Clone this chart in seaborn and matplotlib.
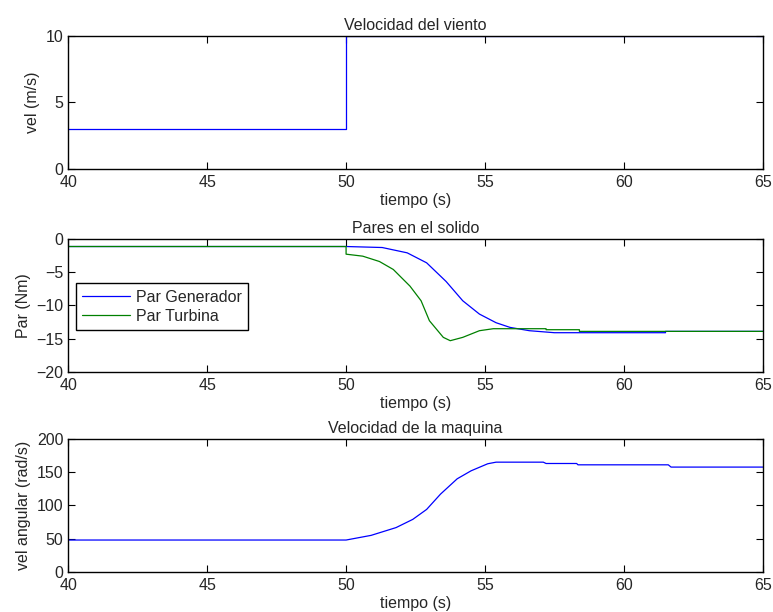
import matplotlib
matplotlib.use("Agg")
import matplotlib.pyplot as plt
import seaborn as sns
import pandas as pd

# viento (escalon)
t_viento = [40, 50, 50, 65]
v_viento = [3, 3, 10, 10]

# pares en el solido
t_gen = [40, 50, 51.3, 52.2, 52.9, 53.6, 54.2, 54.8, 55.4, 55.9, 56.6, 57.5, 61.5, 61.5, 65]
par_gen = [-1.15, -1.15, -1.3, -2.1, -3.6, -6.4, -9.3, -11.3, -12.6, -13.3, -13.8, -14.1, -14.1, -13.9, -13.9]
t_tur = [40, 50, 50, 50.6, 51.2, 51.7, 52.3, 52.7, 53.0, 53.5, 53.75, 54.2, 54.8, 55.3, 57.2, 57.2, 58.4, 58.4, 65]
par_tur = [-1.15, -1.15, -2.3, -2.6, -3.4, -4.6, -7.1, -9.3, -12.3, -14.8, -15.3, -14.8, -13.8, -13.5,
           -13.5, -13.65, -13.65, -13.9, -13.9]

# velocidad de la maquina
t_maq = [40, 50, 50.9, 51.8, 52.4, 52.9, 53.4, 54.0, 54.5, 55.1, 55.4, 57.1, 57.2, 58.3, 58.35, 61.6, 61.7, 65]
w_maq = [48, 48, 55, 66.7, 79, 94, 117, 140, 152, 162.6, 165, 165, 163, 163, 161, 161, 157.6, 157.6]

x_ticks = [40, 45, 50, 55, 60, 65]

sns.set_style("ticks")
plt.rcParams["font.family"] = ["Liberation Sans", "DejaVu Sans"]
plt.rcParams["font.size"] = 11.5
plt.rcParams["axes.linewidth"] = 1.0
plt.rcParams["xtick.direction"] = "in"
plt.rcParams["ytick.direction"] = "in"

BLUE = "#0000ff"
GREEN = "#008000"
FS = 11.5

fig = plt.figure(figsize=(7.73, 6.12), dpi=100)
left, width, h = 0.0884, 0.8983, 0.2175
ax1 = fig.add_axes([left, 0.7239, width, h])
ax2 = fig.add_axes([left, 0.3922, width, h])
ax3 = fig.add_axes([left, 0.0654, width, h])

df1 = pd.DataFrame({"t": t_viento, "v": v_viento})
sns.lineplot(data=df1, x="t", y="v", ax=ax1, color=BLUE, lw=0.9, estimator=None, sort=False)
ax1.set_ylim(0, 10)
ax1.set_yticks([0, 5, 10])
ax1.set_title("Velocidad del viento", pad=4, fontsize=FS)
ax1.set_ylabel("vel (m/s)")

df_gen = pd.DataFrame({"t": t_gen, "par": par_gen})
df_tur = pd.DataFrame({"t": t_tur, "par": par_tur})
sns.lineplot(data=df_gen, x="t", y="par", ax=ax2, color=BLUE, lw=0.9, estimator=None, sort=False,
             label="Par Generador")
sns.lineplot(data=df_tur, x="t", y="par", ax=ax2, color=GREEN, lw=0.9, estimator=None, sort=False,
             label="Par Turbina")
ax2.set_ylim(-20, 0)
ax2.set_yticks([-20, -15, -10, -5, 0])
ax2.set_title("Pares en el solido", pad=4, fontsize=FS)
ax2.set_ylabel("Par (Nm)")
leg = ax2.legend(loc="upper left", bbox_to_anchor=(0.011, 0.667), borderaxespad=0,
                 fancybox=False, framealpha=1, edgecolor="black", handlelength=3.0,
                 handletextpad=0.35, labelspacing=0.25, borderpad=0.4, fontsize=FS)
leg.get_frame().set_linewidth(1.0)

df3 = pd.DataFrame({"t": t_maq, "w": w_maq})
sns.lineplot(data=df3, x="t", y="w", ax=ax3, color=BLUE, lw=0.9, estimator=None, sort=False)
ax3.set_ylim(0, 200)
ax3.set_yticks([0, 50, 100, 150, 200])
ax3.set_title("Velocidad de la maquina", pad=4, fontsize=FS)
ax3.set_ylabel("vel angular (rad/s)")

for ax in (ax1, ax2, ax3):
    ax.set_xlim(40, 65)
    ax.set_xticks(x_ticks)
    ax.set_xlabel("tiempo (s)", labelpad=2)
    ax.tick_params(which="both", top=True, right=True, length=5, width=0.8,
                   labelsize=FS, color="black")
    ax.tick_params(axis="x", pad=4.5)
    ax.tick_params(axis="y", pad=3.5)
    for s in ax.spines.values():
        s.set_visible(True)
        s.set_color("black")

fig.savefig("out.png", dpi=100)
